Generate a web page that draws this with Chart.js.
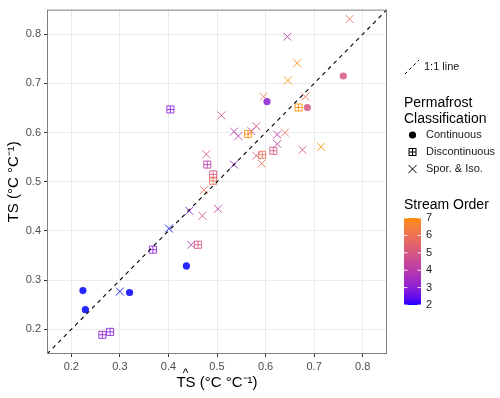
<!DOCTYPE html>
<html>
<head>
<meta charset="utf-8">
<script src="https://cdn.jsdelivr.net/npm/chart.js@4.4.1/dist/chart.umd.min.js"></script>
<style>
  html, body { margin: 0; padding: 0; background: #fff; }
  #wrap { width: 500px; height: 398px; }
</style>
</head>
<body>
<div id="wrap"><canvas id="tsChart" width="500" height="398"></canvas></div>
<script>
// Axis setup
const tickValues = [0.2, 0.3, 0.4, 0.5, 0.6, 0.7, 0.8];
const axisMin = 0.15, axisMax = 0.85;
const orderTicks = [2, 3, 4, 5, 6, 7];

// Continuous permafrost (filled circles)
const contX = [0.224, 0.229, 0.320, 0.437, 0.603, 0.686, 0.760];
const contY = [0.279, 0.240, 0.275, 0.329, 0.663, 0.651, 0.715];
const contOrder = [2, 2, 2, 2, 3, 5, 5];

// Discontinuous permafrost (square plus)
const discX = [0.404, 0.480, 0.492, 0.492, 0.564, 0.593, 0.616, 0.668, 0.368, 0.461, 0.264, 0.280];
const discY = [0.647, 0.535, 0.515, 0.502, 0.597, 0.555, 0.563, 0.651, 0.362, 0.372, 0.189, 0.195];
const discOrder = [3, 4, 5, 6, 7, 6, 5, 7, 3, 5, 3, 3];

// Sporadic & isolated permafrost (x)
const sporX = [0.773, 0.645, 0.665, 0.646, 0.596, 0.682, 0.509, 0.535, 0.544, 0.571, 0.581, 0.624, 0.640, 0.624,
               0.676, 0.714, 0.478, 0.581, 0.592, 0.535, 0.473, 0.502, 0.470, 0.443, 0.447, 0.401, 0.300];
const sporY = [0.831, 0.795, 0.741, 0.706, 0.673, 0.673, 0.635, 0.602, 0.593, 0.603, 0.613, 0.596, 0.600, 0.577,
               0.565, 0.571, 0.556, 0.553, 0.537, 0.535, 0.483, 0.445, 0.431, 0.441, 0.372, 0.405, 0.277];
const sporOrder = [6, 4, 7, 7, 6, 6, 5, 4, 4, 4, 5, 4, 6, 4,
                   5, 7, 5, 5, 6, 3, 6, 4, 5, 3, 4, 2, 2];

const FONT = "'Liberation Sans', Arial, sans-serif";
const xTitle = 'TS (°C °C⁻¹)';
const yTitle = 'TS (°C °C⁻¹)';

// colour gradient blue -> darkorange, interpolated in Lab like ggplot
function toLin(c) { c /= 255; return c <= 0.04045 ? c / 12.92 : Math.pow((c + 0.055) / 1.055, 2.4); }
function toSrgb(c) { c = c <= 0.0031308 ? 12.92 * c : 1.055 * Math.pow(c, 1 / 2.4) - 0.055; return Math.round(Math.max(0, Math.min(1, c)) * 255); }
function rgbToLab(rgb) {
    const r = toLin(rgb[0]), g = toLin(rgb[1]), b = toLin(rgb[2]);
    const X = (0.4124 * r + 0.3576 * g + 0.1805 * b) / 0.95047;
    const Y = 0.2126 * r + 0.7152 * g + 0.0722 * b;
    const Z = (0.0193 * r + 0.1192 * g + 0.9505 * b) / 1.08883;
    const f = t => t > 0.008856 ? Math.cbrt(t) : 7.787 * t + 16 / 116;
    const fx = f(X), fy = f(Y), fz = f(Z);
    return [116 * fy - 16, 500 * (fx - fy), 200 * (fy - fz)];
}
function labToRgb(lab) {
    const fy = (lab[0] + 16) / 116, fx = fy + lab[1] / 500, fz = fy - lab[2] / 200;
    const inv = t => t * t * t > 0.008856 ? t * t * t : (t - 16 / 116) / 7.787;
    const X = inv(fx) * 0.95047, Y = inv(fy), Z = inv(fz) * 1.08883;
    const r = 3.2406 * X - 1.5372 * Y - 0.4986 * Z;
    const g = -0.9689 * X + 1.8758 * Y + 0.0415 * Z;
    const b = 0.0557 * X - 0.2040 * Y + 1.0570 * Z;
    return [toSrgb(r), toSrgb(g), toSrgb(b)];
}
const labLow = rgbToLab([0, 0, 255]);
const labHigh = rgbToLab([255, 140, 0]);
function orderColor(o, alpha = 1) {
    const t = (o - 2) / 5;
    const c = labToRgb(labLow.map((v, i) => v + (labHigh[i] - v) * t));
    return `rgba(${c[0]},${c[1]},${c[2]},${alpha})`;
}
const ALPHA = 0.85;

const toPts = (xs, ys) => xs.map((x, i) => ({ x: x, y: ys[i] }));

// panel border, hat on x title, custom legend
const decorPlugin = {
    id: 'decor',
    afterDraw: (chart) => {
        const { ctx, chartArea: a } = chart;
        ctx.save();
        ctx.strokeStyle = '#7F7F7F';
        ctx.lineWidth = 1;
        ctx.strokeRect(a.left + 0.5, a.top + 0.5, a.right - a.left - 1, a.bottom - a.top - 1);

        // hat over "TS" in x title
        ctx.font = `15px ${FONT}`;
        const w = ctx.measureText(xTitle).width;
        const wT = ctx.measureText('T').width;
        const cx = (a.left + a.right) / 2;
        ctx.fillStyle = '#000';
        ctx.textAlign = 'center';
        ctx.textBaseline = 'middle';
        ctx.font = `12px ${FONT}`;
        ctx.fillText('^', cx - w / 2 + wT, 374);

        const lx = 404, tx = 426;
        // 1:1 line key
        ctx.strokeStyle = '#000';
        ctx.lineWidth = 1;
        ctx.setLineDash([3, 3]);
        ctx.beginPath();
        ctx.moveTo(lx + 1, 74);
        ctx.lineTo(lx + 15, 60);
        ctx.stroke();
        ctx.setLineDash([]);
        ctx.textAlign = 'left';
        ctx.font = `11px ${FONT}`;
        ctx.fillStyle = '#1A1A1A';
        ctx.fillText('1:1 line', tx - 2, 67);

        // permafrost legend
        ctx.font = `14px ${FONT}`;
        ctx.fillStyle = '#000';
        ctx.fillText('Permafrost', lx, 103);
        ctx.fillText('Classification', lx, 119);
        const kx = lx + 8.5;
        ctx.fillStyle = '#000';
        ctx.beginPath();
        ctx.arc(kx, 135, 3.6, 0, Math.PI * 2);
        ctx.fill();
        ctx.strokeStyle = '#000';
        ctx.strokeRect(kx - 3.5, 152 - 3.5, 7, 7);
        ctx.beginPath();
        ctx.moveTo(kx - 3.5, 152); ctx.lineTo(kx + 3.5, 152);
        ctx.moveTo(kx, 152 - 3.5); ctx.lineTo(kx, 152 + 3.5);
        ctx.moveTo(kx - 4, 165); ctx.lineTo(kx + 4, 173);
        ctx.moveTo(kx - 4, 173); ctx.lineTo(kx + 4, 165);
        ctx.stroke();
        ctx.font = `11px ${FONT}`;
        ctx.fillStyle = '#1A1A1A';
        ctx.fillText('Continuous', tx, 135);
        ctx.fillText('Discontinuous', tx, 152);
        ctx.fillText('Spor. & Iso.', tx, 169);

        // stream order colourbar
        ctx.font = `14px ${FONT}`;
        ctx.fillStyle = '#000';
        ctx.fillText('Stream Order', lx, 205);
        const barTop = 218, barBot = 305, barW = 17;
        for (let py = barTop; py < barBot; py++) {
            const o = 7 - 5 * (py - barTop + 0.5) / (barBot - barTop);
            ctx.fillStyle = orderColor(o);
            ctx.fillRect(lx, py, barW, 1);
        }
        ctx.strokeStyle = 'rgba(255,255,255,0.9)';
        ctx.font = `11px ${FONT}`;
        orderTicks.forEach(o => {
            const py = barBot - (o - 2) / 5 * (barBot - barTop);
            ctx.beginPath();
            ctx.moveTo(lx, py); ctx.lineTo(lx + 3.5, py);
            ctx.moveTo(lx + barW - 3.5, py); ctx.lineTo(lx + barW, py);
            ctx.stroke();
            ctx.fillStyle = '#1A1A1A';
            ctx.fillText(String(o), tx, py);
        });
        ctx.restore();
    }
};

const axisCommon = {
    type: 'linear',
    min: axisMin,
    max: axisMax,
    afterBuildTicks: s => { s.ticks = tickValues.map(v => ({ value: v })); },
    ticks: { callback: v => v.toFixed(1), color: '#4D4D4D', font: { family: FONT, size: 11 }, padding: 3 },
    grid: { color: '#EBEBEB', lineWidth: 1, tickColor: '#333', tickLength: 3 },
    border: { display: false }
};

new Chart(document.getElementById('tsChart'), {
    type: 'scatter',
    plugins: [decorPlugin],
    data: {
        datasets: [
            {
                type: 'line',
                data: [{ x: axisMin, y: axisMin }, { x: axisMax, y: axisMax }],
                borderColor: '#000',
                borderWidth: 1.1,
                borderDash: [4, 4],
                pointRadius: 0
            },
            {
                data: toPts(contX, contY),
                pointStyle: 'circle',
                pointRadius: 3.6,
                borderWidth: 0,
                backgroundColor: contOrder.map(o => orderColor(o, ALPHA)),
                borderColor: contOrder.map(o => orderColor(o, ALPHA))
            },
            {
                data: toPts(discX, discY),
                pointStyle: 'rect',
                pointRadius: 5,
                borderWidth: 1,
                backgroundColor: 'rgba(0,0,0,0)',
                borderColor: discOrder.map(o => orderColor(o, ALPHA))
            },
            {
                data: toPts(discX, discY),
                pointStyle: 'cross',
                pointRadius: 3.5,
                borderWidth: 1,
                borderColor: discOrder.map(o => orderColor(o, ALPHA))
            },
            {
                data: toPts(sporX, sporY),
                pointStyle: 'crossRot',
                pointRadius: 5.6,
                borderWidth: 1,
                borderColor: sporOrder.map(o => orderColor(o, ALPHA))
            }
        ]
    },
    options: {
        responsive: false,
        animation: false,
        layout: { padding: { top: 5, right: 113, left: 0, bottom: 0 } },
        plugins: { legend: { display: false }, tooltip: { enabled: false } },
        scales: {
            x: Object.assign({}, axisCommon, {
                title: { display: true, text: xTitle, color: '#000', font: { family: FONT, size: 15 }, padding: { top: 0, bottom: 6 } },
                afterFit: s => { s.height = 44; }
            }),
            y: Object.assign({}, axisCommon, {
                title: { display: true, text: yTitle, color: '#000', font: { family: FONT, size: 15 }, padding: { top: 5, bottom: 0 } },
                afterFit: s => { s.width = 47; }
            })
        }
    }
});
</script>
</body>
</html>
